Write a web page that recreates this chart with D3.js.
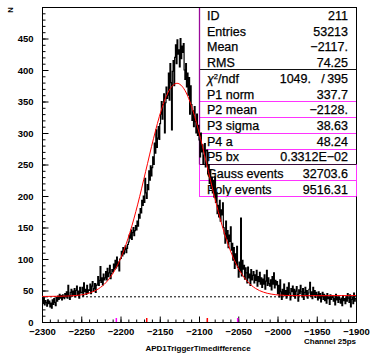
<!DOCTYPE html>
<html>
<head>
<meta charset="utf-8">
<script src="https://cdn.jsdelivr.net/npm/d3@7"></script>
<style>
  body { margin: 0; background: #fff; }
  svg { display: block; font-family: "Liberation Sans", Arial, sans-serif; }
</style>
</head>
<body>
<div id="chart"></div>
<script>
// histogram: 400 bins of 1 channel, starting at -2300
const binStart = -2300;
const binWidth = 1;
const counts = [
  36,30,38,27,34,31,25,35,29,33,
  24,30,22,35,28,37,31,26,39,33,
  41,36,44,38,42,35,43,39,37,45,
  40,48,38,58,42,36,47,52,41,49,
  44,53,40,50,57,43,49,38,55,46,
  47,55,41,62,48,52,44,58,46,51,
  50,60,45,57,64,49,53,61,47,58,
  60,72,58,66,88,63,70,59,76,67,
  70,80,67,85,72,78,90,69,77,83,
  80,92,84,98,86,103,89,95,81,100,
  101,112,105,118,108,115,121,110,117,123,
  127,138,133,146,131,142,150,137,145,153,
  146,160,152,171,165,180,173,193,185,200,
  190,228,205,196,218,210,240,225,248,232,
  245,262,250,284,268,305,277,292,310,290,
  315,330,350,322,345,362,300,348,373,355,
  360,395,352,410,380,305,398,415,375,420,
  440,410,448,425,432,405,450,418,438,428,
  442,400,385,410,373,395,360,388,330,375,
  345,320,335,310,342,318,300,330,296,312,
  289,262,300,270,281,250,265,283,246,272,
  273,235,250,220,242,212,230,205,225,198,
  230,190,205,172,185,167,193,160,178,170,
  189,150,140,125,160,132,145,118,138,128,
  151,114,125,98,118,85,108,92,120,87,
  71,95,80,165,73,98,84,90,68,86,
  78,62,87,70,76,58,83,67,74,80,
  62,75,66,82,57,72,64,79,60,70,
  55,68,60,75,52,65,82,58,70,61,
  57,67,51,72,60,78,54,66,59,64,
  45,58,40,67,48,36,52,44,60,42,
  50,38,55,43,62,46,35,53,48,57,
  41,52,38,49,56,44,33,51,45,58,
  48,40,53,36,47,55,42,50,38,46,
  52,63,41,48,37,55,44,50,39,47,
  43,35,48,38,45,32,41,47,36,44,
  34,42,30,45,37,40,28,43,36,39,
  41,33,38,27,44,35,40,31,39,36,
  30,38,26,42,34,37,29,40,33,45,
  38,31,43,24,36,40,29,46,33,37
];

// fitted curve (gauss + background), read at these channels
const fitX = [-2300,-2298,-2288,-2278,-2268,-2258,-2248,-2238,-2228,-2218,-2208,-2198,-2188,-2178,-2168,-2158,-2148,-2138,-2128,
  -2118,-2108,-2098,-2088,-2078,-2068,-2058,-2048,-2038,-2028,-2018,-2008,-1998,-1988,-1978,-1968,-1958,-1948,-1938,-1928,-1918,-1908,-1900];
const fitY = [40.6,40.6,40.7,40.9,41.2,41.9,43.5,46.7,52.7,63.3,80.5,106.4,142.1,187.1,238.7,290.9,336.5,367.8,378.9,
  367.8,336.7,291.1,238.9,187.5,142.5,106.8,81.1,63.9,53.3,47.4,44.3,42.8,42.1,41.9,41.8,41.8,41.8,41.8,41.9,41.9,41.9,42.0];

const baseLevel = 40;

// mean +- 1 and 2 sigma marks on the x axis
const markerX = [-2205.3, -2166.6, -2089.4, -2050.7];
const markerColors = ['#ff00ff', '#ff0000', '#ff0000', '#ff00ff'];

const statLabels = ['ID', 'Entries', 'Mean', 'RMS'];
const statValues = ['211', '53213', '\u22122117.', '74.25'];
const chi2Values = ['1049.', '395'];
const parLabels = ['P1 norm', 'P2 mean', 'P3 sigma', 'P4 a', 'P5 bx'];
const parValues = ['337.7', '\u22122128.', '38.63', '48.24', '0.3312E\u221202'];
const eventLabels = ['Gauss events', 'Poly events'];
const eventValues = ['32703.6', '9516.31'];

const W = 370, H = 353;
const pL = 42, pR = 356, pT = 7, pB = 322;

const svg = d3.select('#chart').append('svg')
  .attr('width', W)
  .attr('height', H);

const x = d3.scaleLinear().domain([-2300, -1900]).range([pL, pR]);
const y = d3.scaleLinear().domain([0, 500]).range([pB, pT]);

// stats box (drawn first, data goes over it)
const boxL = 199, boxR = 356;
const rowBase = [19.5, 35.5, 51, 66.5, 83, 98.5, 114, 130, 145.5, 161, 177.5, 193.5];
const textL = 207, textR = 348;
const fs = '12.5px';
const box = svg.append('g');

const txt = (s, xx, yy, anchor) => box.append('text')
  .attr('x', xx).attr('y', yy)
  .attr('text-anchor', anchor)
  .style('font-size', fs)
  .style('fill', '#000')
  .style('stroke', '#000')
  .style('stroke-width', 0.25)
  .text(s);

statLabels.forEach((s, i) => {
  txt(s, textL, rowBase[i], 'start');
  txt(statValues[i], textR, rowBase[i], 'end');
});

const chi = box.append('text')
  .attr('x', textL).attr('y', rowBase[4])
  .style('font-size', fs)
  .style('stroke', '#000')
  .style('stroke-width', 0.25);
chi.append('tspan').style('font-style', 'italic').text('\u03c7');
chi.append('tspan').attr('dy', -4.5).style('font-size', '7.5px').text('2');
chi.append('tspan').attr('dy', 4.5).text('/ndf');
txt(chi2Values[0], 311, rowBase[4], 'end');
txt('/', 323, rowBase[4], 'middle');
txt(chi2Values[1], textR, rowBase[4], 'end');

parLabels.forEach((s, i) => {
  txt(s, textL, rowBase[5 + i], 'start');
  txt(parValues[i], textR, rowBase[5 + i], 'end');
});
eventLabels.forEach((s, i) => {
  txt(s, textL, rowBase[10 + i], 'start');
  txt(eventValues[i], textR, rowBase[10 + i], 'end');
});

const hline = (yy, color) => box.append('line')
  .attr('x1', boxL).attr('x2', boxR)
  .attr('y1', yy).attr('y2', yy)
  .style('stroke', color).style('stroke-width', 1);

hline(69.5, '#111');
[101.5, 117.5, 133.5, 149.5].forEach(v => hline(v, '#ff33ff'));
hline(164.5, '#3a0a3a');
[180.5, 196.5].forEach(v => hline(v, '#ff33ff'));

box.append('line')
  .attr('x1', boxL + 0.5).attr('x2', boxL + 0.5)
  .attr('y1', pT).attr('y2', 164.5)
  .style('stroke', '#9a0a9a').style('stroke-width', 1.3);

// frame
svg.append('rect')
  .attr('x', pL + 0.5).attr('y', pT + 0.5)
  .attr('width', pR - pL).attr('height', pB - pT)
  .attr('fill', 'none')
  .style('stroke', '#000').style('stroke-width', 1);

// lower part of box, over the frame
svg.append('line')
  .attr('x1', boxL + 0.5).attr('x2', boxL + 0.5)
  .attr('y1', 164.5).attr('y2', 196.5)
  .style('stroke', '#ff33ff');
svg.append('line')
  .attr('x1', boxR + 0.5).attr('x2', boxR + 0.5)
  .attr('y1', 164.5).attr('y2', 196.5)
  .style('stroke', '#ff33ff');

// axes, ticks inside
const xMajor = d3.range(-2300, -1899, 50);
const xMinor = d3.range(-2300, -1899, 10);
const yMajor = d3.range(0, 451, 50);
const yMinor = d3.range(0, 491, 10);

const xMinorAxis = d3.axisBottom(x).tickValues(xMinor).tickSize(-3).tickFormat('');
const xAxis = d3.axisBottom(x).tickValues(xMajor).tickSize(-6).tickPadding(6)
  .tickFormat(d3.format('d'));
const yMinorAxis = d3.axisLeft(y).tickValues(yMinor).tickSize(-3).tickFormat('');
const yAxis = d3.axisLeft(y).tickValues(yMajor).tickSize(-6).tickPadding(9)
  .tickFormat(d3.format('d'));

[xMinorAxis, xAxis].forEach(a => {
  svg.append('g')
    .attr('transform', `translate(0,${pB + 0.5})`)
    .call(a)
    .call(g => g.select('.domain').remove())
    .call(g => g.selectAll('.tick line').style('stroke', '#000'))
    .selectAll('text')
    .style('fill', '#000')
    .style('font-size', '9.5px')
    .style('font-weight', 'bold');
});

[yMinorAxis, yAxis].forEach(a => {
  svg.append('g')
    .attr('transform', `translate(${pL + 0.5},0)`)
    .call(a)
    .call(g => g.select('.domain').remove())
    .call(g => g.selectAll('.tick line').style('stroke', '#000'))
    .selectAll('text')
    .style('fill', '#000')
    .style('font-size', '9.5px')
    .style('font-weight', 'bold');
});

// background level
svg.append('line')
  .attr('x1', pL).attr('x2', pR)
  .attr('y1', y(baseLevel)).attr('y2', y(baseLevel))
  .style('stroke', '#000')
  .style('stroke-width', 1)
  .style('stroke-dasharray', '2,2');

// histogram as step outline
const pts = [];
counts.forEach((c, i) => {
  pts.push([binStart + i * binWidth, c]);
  pts.push([binStart + (i + 1) * binWidth, c]);
});
const histLine = d3.line()
  .x(d => x(d[0]))
  .y(d => y(d[1]));

svg.append('path')
  .datum(pts)
  .attr('d', histLine)
  .style('fill', 'none')
  .style('stroke', '#000')
  .style('stroke-width', 1.2);

const fitLine = d3.line()
  .x((d, i) => x(fitX[i]))
  .y(d => y(d))
  .curve(d3.curveMonotoneX);

svg.append('path')
  .datum(fitY)
  .attr('d', fitLine)
  .style('fill', 'none')
  .style('stroke', '#ff0000')
  .style('stroke-width', 1);

// sigma markers
markerX.forEach((m, i) => {
  svg.append('line')
    .attr('x1', x(m)).attr('x2', x(m))
    .attr('y1', pB).attr('y2', pB - 4)
    .style('stroke', markerColors[i])
    .style('stroke-width', 1.5);
});

// axis titles
svg.append('text')
  .attr('x', 198).attr('y', 351)
  .attr('text-anchor', 'middle')
  .style('font-size', '8px')
  .style('font-weight', 'bold')
  .text('APD1TriggerTimedifference');

svg.append('text')
  .attr('x', 356).attr('y', 344)
  .attr('text-anchor', 'end')
  .style('font-size', '8px')
  .style('font-weight', 'bold')
  .text('Channel 25ps');

svg.append('text')
  .attr('transform', 'translate(13,10) rotate(-90)')
  .attr('text-anchor', 'middle')
  .style('font-size', '7.5px')
  .style('font-weight', 'bold')
  .text('N');
</script>
</body>
</html>
